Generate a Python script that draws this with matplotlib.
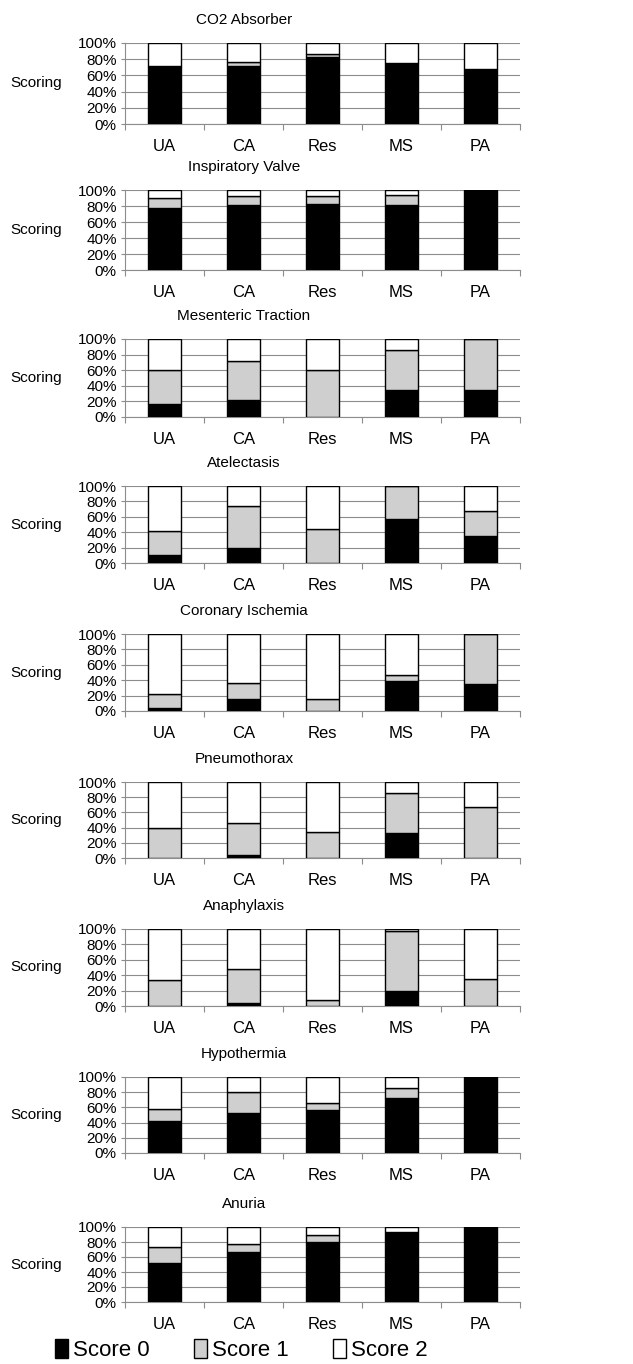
import matplotlib.pyplot as plt
from matplotlib.patches import Patch
import numpy as np

plt.rcParams['font.family'] = ['Liberation Sans', 'DejaVu Sans']

# groups on the x axis
groups = ['UA', 'CA', 'Res', 'MS', 'PA']

# panel titles
titles = ['CO2 Absorber', 'Inspiratory Valve', 'Mesenteric Traction', 'Atelectasis',
          'Coronary Ischemia', 'Pneumothorax', 'Anaphylaxis', 'Hypothermia', 'Anuria']

# percent with score 0 (black) for UA, CA, Res, MS, PA
score0 = [
    [70, 72, 83, 75, 68],
    [77, 81, 83, 81, 100],
    [17, 22, 0, 35, 35],
    [10, 20, 0, 57, 35],
    [4, 15, 0, 39, 35],
    [0, 4, 0, 33, 0],
    [0, 4, 0, 20, 0],
    [42, 53, 57, 73, 100],
    [52, 67, 80, 94, 100],
]

# percent with score 1 (grey)
score1 = [
    [2, 4, 3, 0, 0],
    [13, 11, 9, 13, 0],
    [43, 50, 60, 51, 65],
    [32, 54, 44, 43, 32],
    [18, 21, 15, 8, 65],
    [40, 42, 34, 52, 67],
    [34, 44, 8, 78, 35],
    [16, 27, 9, 12, 0],
    [22, 11, 9, 0, 0],
]

W, H = 633, 1364
fig = plt.figure(figsize=(W / 100, H / 100), dpi=100)

# pixel rows of the 100% and 0% lines of each panel
tops = [43, 190, 339, 486, 634, 782, 929, 1077, 1227]
bots = [124, 270, 417, 563, 711, 858, 1006, 1153, 1302]
left, right = 125, 520
x = np.arange(len(groups))

for i, title in enumerate(titles):
    s0 = np.array(score0[i])
    s1 = np.array(score1[i])
    s2 = 100 - s0 - s1
    ytop, ybot = tops[i], bots[i]
    ax = fig.add_axes([left / W, 1 - ybot / H, (right - left) / W, (ybot - ytop) / H])

    ax.bar(x, s0, 0.41, color='black', edgecolor='black', linewidth=1, zorder=3)
    ax.bar(x, s1, 0.41, bottom=s0, color='#cfcfcf', edgecolor='black', linewidth=1, zorder=3)
    ax.bar(x, s2, 0.41, bottom=s0 + s1, color='white', edgecolor='black', linewidth=1, zorder=3)

    ax.set_xlim(-0.5, len(groups) - 0.5)
    ax.set_ylim(0, 100)
    ax.set_yticks(range(0, 101, 20))
    ax.set_yticklabels([f'{v}%' for v in range(0, 101, 20)], fontsize=11)
    ax.yaxis.grid(True, color='#8c8c8c', linewidth=0.8, zorder=0)

    ax.set_xticks(np.arange(-0.5, len(groups), 1))
    ax.set_xticklabels([])
    ax.set_xticks(x, minor=True)
    ax.set_xticklabels(groups, minor=True, fontsize=12)
    ax.tick_params(axis='x', which='major', length=4, color='#8c8c8c')
    ax.tick_params(axis='x', which='minor', length=0, pad=11)
    ax.tick_params(axis='y', length=3, color='#8c8c8c', pad=3)

    for side in ['top', 'right']:
        ax.spines[side].set_visible(False)
    ax.spines['left'].set_color('#8c8c8c')
    ax.spines['bottom'].set_color('#8c8c8c')

    fig.text(244 / W, 1 - (ytop - 23) / H, title, ha='center', va='center', fontsize=11)
    fig.text(36 / W, 1 - (ytop + ybot) / 2 / H, 'Scoring', ha='center', va='center', fontsize=11)

handles = [Patch(facecolor='black', edgecolor='black'),
           Patch(facecolor='#cfcfcf', edgecolor='black'),
           Patch(facecolor='white', edgecolor='black')]
fig.legend(handles, ['Score 0', 'Score 1', 'Score 2'], ncol=3, frameon=False,
           loc='center left', bbox_to_anchor=(55 / W, 1 - 1350 / H), fontsize=16,
           handlelength=0.6, handleheight=0.9, handletextpad=0.2, columnspacing=2.0,
           borderpad=0, borderaxespad=0)

fig.savefig('out.png', dpi=100)
